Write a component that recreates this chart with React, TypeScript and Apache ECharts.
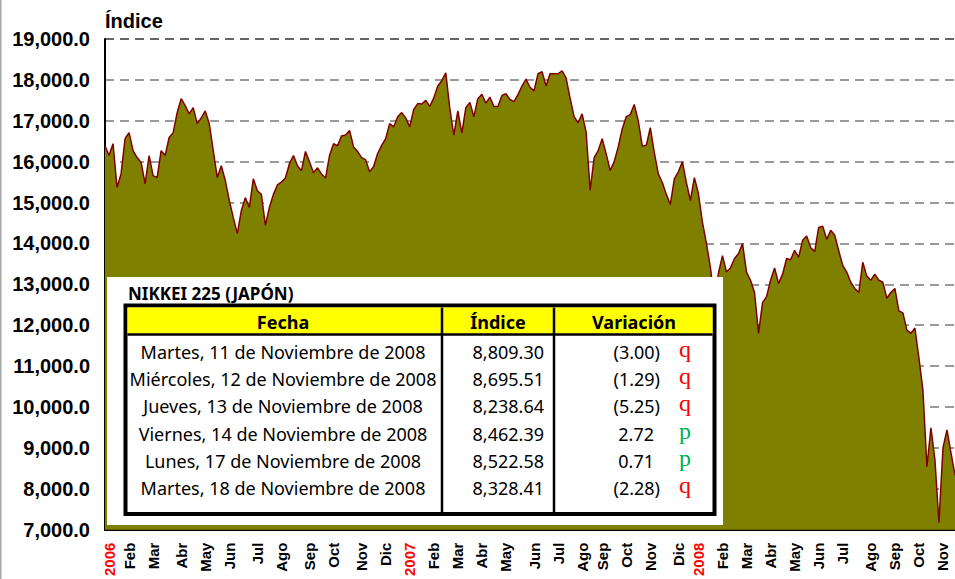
import React, { useEffect, useRef } from 'react';
import * as echarts from 'echarts';

const values2006 = [
  16390, 16150, 16440, 15370, 15700, 16560, 16710, 16270, 16100, 15980,
  15460, 16150, 15660, 15610, 16270, 16150, 16590, 16710, 17200, 17540,
  17370, 17170, 17320, 16930, 17070, 17240, 16930, 16270, 15610, 15900,
  15540, 15050, 14630, 14240, 14800, 15120, 14880, 15580, 15290, 15200,
  14440, 14880, 15200, 15430, 15500, 15600, 15950, 16150, 15900, 15780,
  16250, 16000, 15730, 15850, 15700, 15600, 16150, 16440, 16390, 16630,
  16650, 16760, 16360, 16250, 16100, 16050, 15750, 15880, 16200, 16400,
  16560, 16930, 16850, 17100, 17200, 17070,
];
const values2007 = [
  16850, 17280, 17420, 17410, 17500, 17350, 17560, 17850, 17980, 18170,
  17300, 16650, 17240, 16700, 17320, 17450, 17100, 17540, 17650, 17430,
  17580, 17350, 17350, 17620, 17660, 17520, 17470, 17640, 17850, 18020,
  17820, 17730, 18150, 18200, 17850, 18150, 18150, 18150, 18220, 18050,
  17550, 17100, 16950, 17170, 16720, 15300, 16100, 16270, 16560, 16190,
  15780, 16000, 16360, 16800, 17100, 17150, 17400, 17000, 16380, 16400,
  16830, 16220, 15700, 15490, 15200, 14950, 15580, 15750, 16000, 15490,
  15050, 15610,
];
const values2008 = [
  15220, 14520, 14000, 13410, 12600, 13270, 13700, 13300, 13400, 13630,
  13750, 14000, 13300, 13100, 12800, 11800, 12550, 12700, 13100, 13400,
  13020, 13250, 13630, 13600, 13830, 13660, 14080, 14180, 13900, 13800,
  14390, 14420, 14100, 14320, 14200, 13820, 13460, 13300, 13050, 12900,
  12800, 13540, 13200, 13100, 13250, 13100, 13050, 12660, 12800, 12900,
  12350, 12300, 11880, 11800, 11930, 11200, 10410, 8540, 9490, 8700,
  7170, 9000, 9440, 8880, 8330,
];

// Month tick labels and the sample at which each month starts
const tickLabels = [
  '2006', 'Feb', 'Mar', 'Abr', 'May', 'Jun', 'Jul', 'Ago', 'Sep', 'Oct', 'Nov', 'Dic',
  '2007', 'Feb', 'Mar', 'Abr', 'May', 'Jun', 'Jul', 'Ago', 'Sep', 'Oct', 'Nov', 'Dic',
  '2008', 'Feb', 'Mar', 'Abr', 'May', 'Jun', 'Jul', 'Ago', 'Sep', 'Oct', 'Nov',
];
const tickIndex = [
  1, 6, 12, 19, 25, 31, 38, 44, 51, 57, 64, 70,
  76, 82, 88, 94, 100, 107, 113, 119, 124, 130, 136, 143,
  148, 154, 160, 166, 172, 178, 184, 191, 197, 203, 209,
];

const yMin = 7000;
const yMax = 19000;
const yStep = 1000;

// Table
const tableTitle = 'NIKKEI 225 (JAPÓN)';
const tableHeaders = ['Fecha', 'Índice', 'Variación'];
const tableDates = [
  'Martes, 11 de Noviembre de 2008',
  'Miércoles, 12 de Noviembre de 2008',
  'Jueves, 13 de Noviembre de 2008',
  'Viernes, 14 de Noviembre de 2008',
  'Lunes, 17 de Noviembre de 2008',
  'Martes, 18 de Noviembre de 2008',
];
const tableIndex = [8809.3, 8695.51, 8238.64, 8462.39, 8522.58, 8328.41];
const tableChange = [-3.0, -1.29, -5.25, 2.72, 0.71, -2.28];

const SANS = '"Liberation Sans", Arial, sans-serif';
const TSANS = '"Noto Sans", "Open Sans", sans-serif';

export default function App() {
  const ref = useRef<HTMLDivElement>(null);

  useEffect(() => {
    if (!ref.current) return;
    const chart = echarts.init(ref.current, undefined, { renderer: 'svg' });
    const values = [...values2006, ...values2007, ...values2008];
    const categories = values.map((_, i) => String(i));

    const nGrid = (yMax - yMin) / yStep + 1;
    const gridColors = Array.from({ length: nGrid }, (_, i) => (i === nGrid - 1 ? '#333333' : '#7a7a7a'));

    const Z = 100;
    const rowY = [352, 379, 406, 434, 461, 488];
    const fmtNum = (v: number) =>
      v.toLocaleString('en-US', { minimumFractionDigits: 2, maximumFractionDigits: 2 });

    const rowElems: any[] = [];
    tableDates.forEach((d, i) => {
      const y = rowY[i];
      const ch = tableChange[i];
      rowElems.push({
        type: 'text', x: 283, y, z: Z + 3,
        style: { text: d, font: `18px ${TSANS}`, fill: '#000', align: 'center', verticalAlign: 'middle' },
      });
      rowElems.push({
        type: 'text', x: 544, y, z: Z + 3,
        style: { text: fmtNum(tableIndex[i]), font: `18px ${TSANS}`, fill: '#000', align: 'right', verticalAlign: 'middle' },
      });
      rowElems.push({
        type: 'text', x: ch < 0 ? 660 : 654, y, z: Z + 3,
        style: {
          text: ch < 0 ? `(${fmtNum(-ch)})` : fmtNum(ch),
          font: `18px ${TSANS}`, fill: '#000', align: 'right', verticalAlign: 'middle',
        },
      });
      rowElems.push({
        type: 'text', x: 685, y: y - 3, z: Z + 3,
        style: {
          text: ch < 0 ? 'q' : 'p',
          font: `24px "Liberation Serif", serif`,
          fill: ch < 0 ? '#FF0000' : '#00B050', align: 'center', verticalAlign: 'middle',
        },
      });
    });

    chart.setOption({
      animation: false,
      backgroundColor: '#ffffff',
      textStyle: { fontFamily: SANS },
      grid: { left: 105, right: 0, top: 39, bottom: 48.5, containLabel: false },
      xAxis: {
        type: 'category',
        data: categories,
        boundaryGap: false,
        axisLine: { show: true, lineStyle: { color: '#000', width: 2 } },
        axisTick: { show: false },
        splitLine: { show: false },
        axisLabel: {
          interval: (index: number) => tickIndex.includes(index),
          rotate: 90,
          margin: 13,
          fontSize: 15,
          fontWeight: 'bold',
          fontFamily: SANS,
          color: '#000',
          formatter: (value: string) => {
            const k = tickIndex.indexOf(Number(value));
            if (k < 0) return '';
            const lab = tickLabels[k];
            return /^\d{4}$/.test(lab) ? `{y|${lab}}` : lab;
          },
          rich: {
            y: { color: '#FF0000', fontSize: 15, fontWeight: 'bold', fontFamily: SANS },
          },
        },
      },
      yAxis: {
        type: 'value',
        min: yMin,
        max: yMax,
        interval: yStep,
        axisLine: { show: true, lineStyle: { color: '#000', width: 2 } },
        axisTick: { show: false },
        splitLine: { show: true, lineStyle: { color: gridColors, width: 1.5, type: [9, 6] } },
        axisLabel: {
          margin: 15,
          fontSize: 20,
          fontWeight: 'bold',
          fontFamily: SANS,
          color: '#000',
          padding: [3, 0, 0, 0],
          formatter: (v: number) => v.toLocaleString('en-US', { minimumFractionDigits: 1, maximumFractionDigits: 1 }),
        },
      },
      series: [
        {
          type: 'line',
          data: values,
          symbol: 'none',
          smooth: false,
          lineStyle: { color: '#800000', width: 1.5 },
          areaStyle: { color: '#808000', opacity: 1, origin: 'start' },
          z: 2,
        },
      ],
      graphic: [
        { type: 'line', z: Z, shape: { x1: 0.75, y1: 0, x2: 0.75, y2: 579 }, style: { stroke: '#a6a6a6', lineWidth: 1.5 } },
        {
          type: 'text', x: 105, y: 21, z: Z,
          style: { text: 'Índice', font: `bold 20px ${SANS}`, fill: '#000', verticalAlign: 'middle' },
        },
        { type: 'rect', z: Z, shape: { x: 107, y: 277, width: 616, height: 248 }, style: { fill: '#ffffff' } },
        {
          type: 'text', x: 128, y: 293, z: Z + 1,
          style: { text: tableTitle, font: `bold 17px ${TSANS}`, fill: '#000', verticalAlign: 'middle' },
        },
        {
          type: 'rect', z: Z + 1,
          shape: { x: 125.5, y: 305.5, width: 589, height: 208.5 },
          style: { fill: '#ffffff', stroke: '#000', lineWidth: 4 },
        },
        { type: 'rect', z: Z + 2, shape: { x: 127.5, y: 307.5, width: 585, height: 26 }, style: { fill: '#FFFF00' } },
        { type: 'line', z: Z + 3, shape: { x1: 127.5, y1: 334.5, x2: 712.5, y2: 334.5 }, style: { stroke: '#000', lineWidth: 2.5 } },
        { type: 'line', z: Z + 3, shape: { x1: 442, y1: 307.5, x2: 442, y2: 512 }, style: { stroke: '#000', lineWidth: 2.5 } },
        { type: 'line', z: Z + 3, shape: { x1: 554, y1: 307.5, x2: 554, y2: 512 }, style: { stroke: '#000', lineWidth: 2.5 } },
        {
          type: 'text', x: 283, y: 322, z: Z + 3,
          style: { text: tableHeaders[0], font: `bold 18px ${TSANS}`, fill: '#000', align: 'center', verticalAlign: 'middle' },
        },
        {
          type: 'text', x: 498, y: 322, z: Z + 3,
          style: { text: tableHeaders[1], font: `bold 18px ${TSANS}`, fill: '#000', align: 'center', verticalAlign: 'middle' },
        },
        {
          type: 'text', x: 634, y: 322, z: Z + 3,
          style: { text: tableHeaders[2], font: `bold 18px ${TSANS}`, fill: '#000', align: 'center', verticalAlign: 'middle' },
        },
        ...rowElems,
      ],
    });
    return () => chart.dispose();
  }, []);

  return (
    <div
      ref={ref}
      style={{ position: 'absolute', left: 0, top: 0, width: 955, height: 579, background: '#fff' }}
    />
  );
}
